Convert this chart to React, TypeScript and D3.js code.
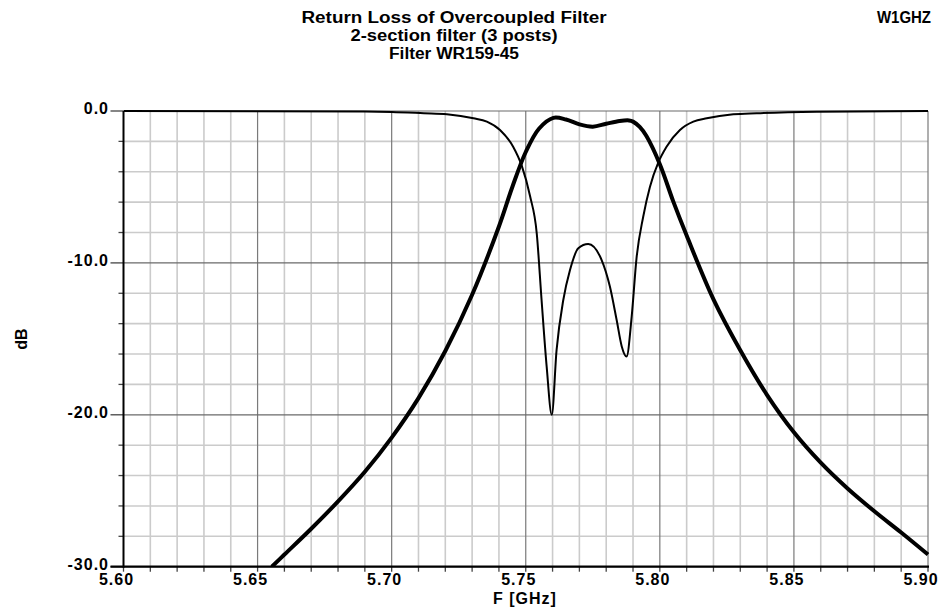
import React, { useEffect, useRef } from 'react';
import * as d3 from 'd3';

// transmission (thick line)
const s21Freq = [5.6553, 5.66, 5.67, 5.68, 5.69, 5.70, 5.71, 5.72, 5.73, 5.74, 5.745, 5.75, 5.755, 5.7603, 5.765, 5.77, 5.775, 5.78, 5.785, 5.7885, 5.79, 5.7925, 5.795, 5.80, 5.805, 5.81, 5.82, 5.83, 5.84, 5.85, 5.86, 5.87, 5.88, 5.89, 5.90];
const s21dB = [-30, -29.2, -27.5, -25.7, -23.75, -21.5, -18.9, -15.8, -12.1, -7.6, -5.0, -2.7, -1.15, -0.45, -0.56, -0.88, -1.03, -0.84, -0.66, -0.62, -0.7, -1.05, -1.65, -3.5, -5.95, -8.2, -12.4, -15.75, -18.7, -21.15, -23.15, -24.85, -26.35, -27.75, -29.2];

// return loss (thin line)
const s11Freq = [5.6, 5.69, 5.7, 5.712, 5.7206, 5.7305, 5.7355, 5.7404, 5.7453, 5.7485, 5.7516, 5.7541, 5.7559, 5.7578, 5.7597, 5.7615, 5.764, 5.7665, 5.7696, 5.7733, 5.7783, 5.7814, 5.7839, 5.7858, 5.7876, 5.7895, 5.7913, 5.7938, 5.7963, 5.7994, 5.8025, 5.8075, 5.8125, 5.8175, 5.8274, 5.8361, 5.8585, 5.9];
const s11dB = [0, -0.03, -0.06, -0.15, -0.22, -0.48, -0.7, -1.25, -2.35, -3.6, -5.6, -8.05, -12.44, -16.83, -20.0, -15.73, -12.44, -10.47, -9.04, -8.76, -9.81, -11.57, -13.76, -15.5, -16.17, -13.54, -9.7, -6.96, -5.0, -3.4, -2.35, -1.25, -0.7, -0.48, -0.22, -0.15, -0.05, 0];

const xTickLabels = ['5.60', '5.65', '5.70', '5.75', '5.80', '5.85', '5.90'];
const yTickLabels = ['0.0', '-10.0', '-20.0', '-30.0'];
const titleLines = ['Return Loss of Overcoupled Filter', '2-section filter (3 posts)', 'Filter WR159-45'];

const FONT = "'Liberation Sans', Arial, sans-serif";

export default function App() {
    const ref = useRef<SVGSVGElement>(null);

    useEffect(() => {
        const svg = d3.select(ref.current);
        svg.selectAll('*').remove();

        const left = 123.5, right = 928, top = 111, bottom = 566.7;
        const x = d3.scaleLinear().domain([5.6, 5.9]).range([left, right]);
        const y = d3.scaleLinear().domain([0, -30]).range([top, bottom]);

        const minorX = d3.range(0, 31).map(i => 5.6 + i * 0.01);
        const minorY = d3.range(0, 16).map(i => -i * 2);

        const grid = svg.append('g');
        // minor grid
        grid.selectAll('line.vx')
            .data(minorX.filter((_, i) => i % 5 !== 0))
            .enter().append('line')
            .attr('x1', d => x(d)).attr('x2', d => x(d))
            .attr('y1', top).attr('y2', bottom)
            .attr('stroke', '#cbcbcb').attr('stroke-width', 1.6);
        grid.selectAll('line.hy')
            .data(minorY.filter((_, i) => i % 5 !== 0))
            .enter().append('line')
            .attr('x1', left).attr('x2', right)
            .attr('y1', d => y(d)).attr('y2', d => y(d))
            .attr('stroke', '#cbcbcb').attr('stroke-width', 1.6);
        // major grid
        grid.selectAll('line.mx')
            .data(minorX.filter((_, i) => i % 5 === 0 && i > 0))
            .enter().append('line')
            .attr('x1', d => x(d)).attr('x2', d => x(d))
            .attr('y1', top).attr('y2', bottom)
            .attr('stroke', '#7a7a7a').attr('stroke-width', 1.2);
        grid.selectAll('line.my')
            .data(minorY.filter((_, i) => i % 5 === 0))
            .enter().append('line')
            .attr('x1', left).attr('x2', right)
            .attr('y1', d => y(d)).attr('y2', d => y(d))
            .attr('stroke', '#6a6a6a').attr('stroke-width', 1.2);

        // ticks
        svg.selectAll('line.ty')
            .data(minorY)
            .enter().append('line')
            .attr('x1', (d, i) => i % 5 === 0 ? left - 13 : left - 5).attr('x2', left)
            .attr('y1', d => y(d)).attr('y2', d => y(d))
            .attr('stroke', '#444').attr('stroke-width', 1.3);
        svg.selectAll('line.tx')
            .data(minorX)
            .enter().append('line')
            .attr('x1', d => x(d)).attr('x2', d => x(d))
            .attr('y1', bottom).attr('y2', bottom + 5)
            .attr('stroke', '#444').attr('stroke-width', 1.3);

        // axes
        svg.append('line').attr('x1', left).attr('x2', left).attr('y1', top).attr('y2', bottom + 1)
            .attr('stroke', '#000').attr('stroke-width', 2);
        svg.append('line').attr('x1', left - 13).attr('x2', right + 1).attr('y1', bottom).attr('y2', bottom)
            .attr('stroke', '#000').attr('stroke-width', 2.2);

        // curves
        const clip = svg.append('clipPath').attr('id', 'plotclip')
        clip.append('rect').attr('x', left).attr('y', top - 3).attr('width', right - left + 3).attr('height', bottom - top + 3)
        const thin = d3.line<[number, number]>()
            .x(d => x(d[0])).y(d => y(d[1]))
            .curve(d3.curveMonotoneX);
        const thick = d3.line<[number, number]>()
            .x(d => x(d[0])).y(d => y(d[1]))
            .curve(d3.curveCatmullRom.alpha(0.5));
        const plot = svg.append('g').attr('clip-path', 'url(#plotclip)');
        plot.append('path')
            .attr('d', thin(s11Freq.map((f, i) => [f, s11dB[i]] as [number, number])))
            .attr('fill', 'none').attr('stroke', '#000').attr('stroke-width', 2);
        plot.append('path')
            .attr('d', thick(s21Freq.map((f, i) => [f, s21dB[i]] as [number, number])))
            .attr('fill', 'none').attr('stroke', '#000').attr('stroke-width', 4)
            .attr('stroke-linejoin', 'round');

        // tick labels
        svg.selectAll('text.xl')
            .data(xTickLabels)
            .enter().append('text')
            .attr('x', d => x(+d) - 7).attr('y', 585)
            .attr('text-anchor', 'middle')
            .attr('font-family', FONT).attr('font-weight', 'bold').attr('font-size', 16)
            .attr('letter-spacing', 1)
            .text(d => d);
        svg.selectAll('text.yl')
            .data(yTickLabels)
            .enter().append('text')
            .attr('x', 109).attr('y', d => y(+d) + 3)
            .attr('text-anchor', 'end')
            .attr('font-family', FONT).attr('font-weight', 'bold').attr('font-size', 16)
            .attr('letter-spacing', 1)
            .text(d => d);

        // axis titles
        svg.append('text')
            .attr('x', 525).attr('y', 604)
            .attr('text-anchor', 'middle')
            .attr('font-family', FONT).attr('font-weight', 'bold').attr('font-size', 16)
            .attr('letter-spacing', 1)
            .text('F [GHz]');
        svg.append('text')
            .attr('transform', 'translate(27,339) rotate(-90)')
            .attr('text-anchor', 'middle')
            .attr('font-family', FONT).attr('font-weight', 'bold').attr('font-size', 16)
            .text('dB');

        // title
        const widths = [305, 207, 130];
        titleLines.forEach((t, i) => {
            svg.append('text')
                .attr('x', 454).attr('y', 23 + i * 18)
                .attr('text-anchor', 'middle')
                .attr('font-family', FONT).attr('font-weight', 'bold').attr('font-size', 16)
                .attr('textLength', widths[i]).attr('lengthAdjust', 'spacingAndGlyphs')
                .text(t);
        });
        svg.append('text')
            .attr('x', 931).attr('y', 23)
            .attr('text-anchor', 'end')
            .attr('font-family', FONT).attr('font-weight', 'bold').attr('font-size', 16)
            .attr('textLength', 54).attr('lengthAdjust', 'spacingAndGlyphs')
            .text('W1GHZ');
    }, []);

    return (
        <svg ref={ref} width={942} height={610}
            style={{ position: 'absolute', left: 0, top: 0, background: '#fff' }} />
    );
}
